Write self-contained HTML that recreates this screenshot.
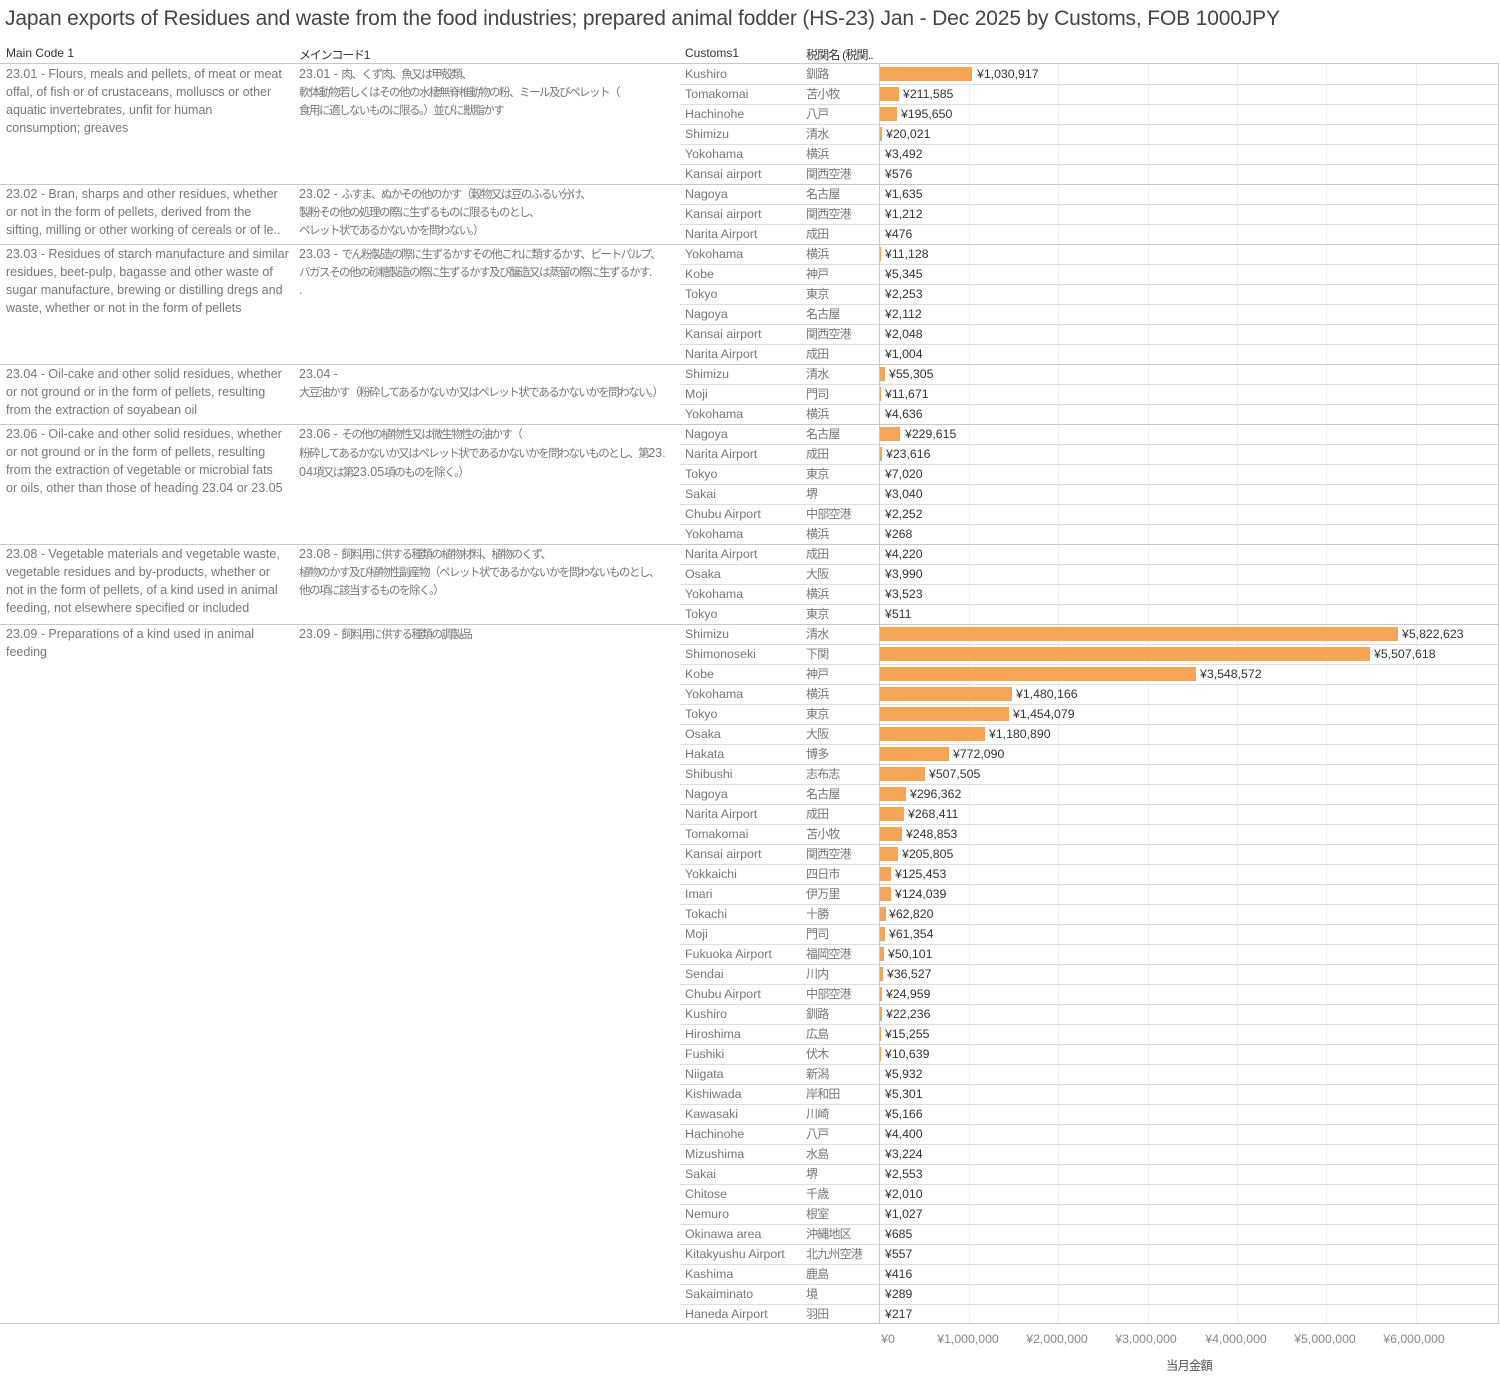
<!DOCTYPE html>
<html><head><meta charset="utf-8"><style>
*{margin:0;padding:0;box-sizing:border-box}
body{width:1500px;height:1381px;background:#fff;position:relative;overflow:hidden;font-family:"Liberation Sans","Noto Sans CJK JP",sans-serif;font-size:12px;color:#666}
.t{position:absolute;left:5px;top:7px;font-size:21px;color:#444;white-space:nowrap;letter-spacing:-0.15px}
.h{position:absolute;top:46px;color:#333;font-size:12px;white-space:nowrap}
.g{position:absolute;left:0;width:1499px;height:1px;background:#c8c8c8}
.rl{position:absolute;left:680px;width:819px;height:1px;background:#dedede}
.v{position:absolute;top:64px;height:1260px;width:1px;background:#efefef}
.d{position:absolute;line-height:18px;white-space:nowrap;font-size:12.5px;color:#777}
.jp{font-size:11.5px;letter-spacing:-1.5px;width:380px;overflow:hidden}
.jp s{text-decoration:none;letter-spacing:0;font-size:12.5px}
.r{position:absolute;left:0;width:1500px;height:20px}
.r .c{position:absolute;left:685px;top:2px;line-height:16px;color:#777;font-size:12.4px}
.r .j{position:absolute;left:806px;top:2px;line-height:16px;color:#777;letter-spacing:-0.8px}
.r b{position:absolute;left:880px;top:3px;height:14px;background:#f5a554}
.r i{position:absolute;top:2px;line-height:16px;font-style:normal;color:#333;font-size:12.3px}
.ax{position:absolute;top:1332px;color:#888;white-space:nowrap;transform:translateX(-50%);font-size:12.3px}
</style></head><body>
<div class="t">Japan exports of Residues and waste from the food industries; prepared animal fodder (HS-23) Jan - Dec 2025 by Customs, FOB 1000JPY</div>
<div class="h" style="left:6px">Main Code 1</div>
<div class="h" style="left:299px;letter-spacing:-1.2px">メインコード1</div>
<div class="h" style="left:685px">Customs1</div>
<div class="h" style="left:806px;letter-spacing:-0.8px">税関名 (税関..</div>

<div class="v" style="left:969px"></div><div class="v" style="left:1058px"></div><div class="v" style="left:1148px"></div><div class="v" style="left:1237px"></div><div class="v" style="left:1326px"></div><div class="v" style="left:1416px"></div>
<div class="v" style="left:1498px;background:#c8c8c8"></div>

<div class="rl" style="top:84px"></div><div class="rl" style="top:104px"></div><div class="rl" style="top:124px"></div><div class="rl" style="top:144px"></div><div class="rl" style="top:164px"></div>
<div class="rl" style="top:204px"></div><div class="rl" style="top:224px"></div>
<div class="rl" style="top:264px"></div><div class="rl" style="top:284px"></div><div class="rl" style="top:304px"></div><div class="rl" style="top:324px"></div><div class="rl" style="top:344px"></div>
<div class="rl" style="top:384px"></div><div class="rl" style="top:404px"></div>
<div class="rl" style="top:444px"></div><div class="rl" style="top:464px"></div><div class="rl" style="top:484px"></div><div class="rl" style="top:504px"></div><div class="rl" style="top:524px"></div>
<div class="rl" style="top:564px"></div><div class="rl" style="top:584px"></div><div class="rl" style="top:604px"></div>
<div class="rl" style="top:644px"></div><div class="rl" style="top:664px"></div><div class="rl" style="top:684px"></div><div class="rl" style="top:704px"></div><div class="rl" style="top:724px"></div><div class="rl" style="top:744px"></div><div class="rl" style="top:764px"></div><div class="rl" style="top:784px"></div><div class="rl" style="top:804px"></div><div class="rl" style="top:824px"></div><div class="rl" style="top:844px"></div><div class="rl" style="top:864px"></div><div class="rl" style="top:884px"></div><div class="rl" style="top:904px"></div><div class="rl" style="top:924px"></div><div class="rl" style="top:944px"></div><div class="rl" style="top:964px"></div><div class="rl" style="top:984px"></div><div class="rl" style="top:1004px"></div><div class="rl" style="top:1024px"></div><div class="rl" style="top:1044px"></div><div class="rl" style="top:1064px"></div><div class="rl" style="top:1084px"></div><div class="rl" style="top:1104px"></div><div class="rl" style="top:1124px"></div><div class="rl" style="top:1144px"></div><div class="rl" style="top:1164px"></div><div class="rl" style="top:1184px"></div><div class="rl" style="top:1204px"></div><div class="rl" style="top:1224px"></div><div class="rl" style="top:1244px"></div><div class="rl" style="top:1264px"></div><div class="rl" style="top:1284px"></div><div class="rl" style="top:1304px"></div>

<div class="g" style="top:63px"></div><div class="g" style="top:184px"></div><div class="g" style="top:244px"></div><div class="g" style="top:364px"></div><div class="g" style="top:424px"></div><div class="g" style="top:544px"></div><div class="g" style="top:624px"></div><div class="g" style="top:1323px"></div>
<div style="position:absolute;left:879px;top:64px;width:1px;height:1260px;background:#c8c8c8"></div>

<div class="d" style="left:6px;top:65px">23.01 - Flours, meals and pellets, of meat or meat<br>offal, of fish or of crustaceans, molluscs or other<br>aquatic invertebrates, unfit for human<br>consumption; greaves</div>
<div class="d jp" style="left:299px;top:65px"><s>23.01 - </s>肉、くず肉、魚又は甲殻類、<br>軟体動物若しくはその他の水棲無脊椎動物の粉、ミール及びペレット（<br>食用に適しないものに限る。）並びに獣脂かす</div>
<div class="d" style="left:6px;top:185px">23.02 - Bran, sharps and other residues, whether<br>or not in the form of pellets, derived from the<br>sifting, milling or other working of cereals or of le..</div>
<div class="d jp" style="left:299px;top:185px"><s>23.02 - </s>ふすま、ぬかその他のかす（穀物又は豆のふるい分け、<br>製粉その他の処理の際に生ずるものに限るものとし、<br>ペレット状であるかないかを問わない。）</div>
<div class="d" style="left:6px;top:245px">23.03 - Residues of starch manufacture and similar<br>residues, beet-pulp, bagasse and other waste of<br>sugar manufacture, brewing or distilling dregs and<br>waste, whether or not in the form of pellets</div>
<div class="d jp" style="left:299px;top:245px"><s>23.03 - </s>でん粉製造の際に生ずるかすその他これに類するかす、ビートパルプ、<br>バガスその他の砂糖製造の際に生ずるかす及び醸造又は蒸留の際に生ずるかす.<br>.</div>
<div class="d" style="left:6px;top:365px">23.04 - Oil-cake and other solid residues, whether<br>or not ground or in the form of pellets, resulting<br>from the extraction of soyabean oil</div>
<div class="d jp" style="left:299px;top:365px"><s>23.04 -</s><br>大豆油かす（粉砕してあるかないか又はペレット状であるかないかを問わない。）</div>
<div class="d" style="left:6px;top:425px">23.06 - Oil-cake and other solid residues, whether<br>or not ground or in the form of pellets, resulting<br>from the extraction of vegetable or microbial fats<br>or oils, other than those of heading 23.04 or 23.05</div>
<div class="d jp" style="left:299px;top:425px"><s>23.06 - </s>その他の植物性又は微生物性の油かす（<br>粉砕してあるかないか又はペレット状であるかないかを問わないものとし、第<s>23.</s><br><s>04</s>項又は第<s>23.05</s>項のものを除く。）</div>
<div class="d" style="left:6px;top:545px">23.08 - Vegetable materials and vegetable waste,<br>vegetable residues and by-products, whether or<br>not in the form of pellets, of a kind used in animal<br>feeding, not elsewhere specified or included</div>
<div class="d jp" style="left:299px;top:545px"><s>23.08 - </s>飼料用に供する種類の植物材料、植物のくず、<br>植物のかす及び植物性副産物（ペレット状であるかないかを問わないものとし、<br>他の項に該当するものを除く。）</div>
<div class="d" style="left:6px;top:625px">23.09 - Preparations of a kind used in animal<br>feeding</div>
<div class="d jp" style="left:299px;top:625px"><s>23.09 - </s>飼料用に供する種類の調製品</div>

<div class="r" style="top:64px"><span class="c">Kushiro</span><span class="j">釧路</span><b style="width:92px"></b><i style="left:977px">¥1,030,917</i></div>
<div class="r" style="top:84px"><span class="c">Tomakomai</span><span class="j">苫小牧</span><b style="width:19px"></b><i style="left:903px">¥211,585</i></div>
<div class="r" style="top:104px"><span class="c">Hachinohe</span><span class="j">八戸</span><b style="width:17px"></b><i style="left:901px">¥195,650</i></div>
<div class="r" style="top:124px"><span class="c">Shimizu</span><span class="j">清水</span><b style="width:2px"></b><i style="left:886px">¥20,021</i></div>
<div class="r" style="top:144px"><span class="c">Yokohama</span><span class="j">横浜</span><i style="left:885px">¥3,492</i></div>
<div class="r" style="top:164px"><span class="c">Kansai airport</span><span class="j">関西空港</span><i style="left:885px">¥576</i></div>
<div class="r" style="top:184px"><span class="c">Nagoya</span><span class="j">名古屋</span><i style="left:885px">¥1,635</i></div>
<div class="r" style="top:204px"><span class="c">Kansai airport</span><span class="j">関西空港</span><i style="left:885px">¥1,212</i></div>
<div class="r" style="top:224px"><span class="c">Narita Airport</span><span class="j">成田</span><i style="left:885px">¥476</i></div>
<div class="r" style="top:244px"><span class="c">Yokohama</span><span class="j">横浜</span><b style="width:1px"></b><i style="left:885px">¥11,128</i></div>
<div class="r" style="top:264px"><span class="c">Kobe</span><span class="j">神戸</span><i style="left:885px">¥5,345</i></div>
<div class="r" style="top:284px"><span class="c">Tokyo</span><span class="j">東京</span><i style="left:885px">¥2,253</i></div>
<div class="r" style="top:304px"><span class="c">Nagoya</span><span class="j">名古屋</span><i style="left:885px">¥2,112</i></div>
<div class="r" style="top:324px"><span class="c">Kansai airport</span><span class="j">関西空港</span><i style="left:885px">¥2,048</i></div>
<div class="r" style="top:344px"><span class="c">Narita Airport</span><span class="j">成田</span><i style="left:885px">¥1,004</i></div>
<div class="r" style="top:364px"><span class="c">Shimizu</span><span class="j">清水</span><b style="width:5px"></b><i style="left:889px">¥55,305</i></div>
<div class="r" style="top:384px"><span class="c">Moji</span><span class="j">門司</span><b style="width:1px"></b><i style="left:885px">¥11,671</i></div>
<div class="r" style="top:404px"><span class="c">Yokohama</span><span class="j">横浜</span><i style="left:885px">¥4,636</i></div>
<div class="r" style="top:424px"><span class="c">Nagoya</span><span class="j">名古屋</span><b style="width:20px"></b><i style="left:905px">¥229,615</i></div>
<div class="r" style="top:444px"><span class="c">Narita Airport</span><span class="j">成田</span><b style="width:2px"></b><i style="left:886px">¥23,616</i></div>
<div class="r" style="top:464px"><span class="c">Tokyo</span><span class="j">東京</span><i style="left:885px">¥7,020</i></div>
<div class="r" style="top:484px"><span class="c">Sakai</span><span class="j">堺</span><i style="left:885px">¥3,040</i></div>
<div class="r" style="top:504px"><span class="c">Chubu Airport</span><span class="j">中部空港</span><i style="left:885px">¥2,252</i></div>
<div class="r" style="top:524px"><span class="c">Yokohama</span><span class="j">横浜</span><i style="left:885px">¥268</i></div>
<div class="r" style="top:544px"><span class="c">Narita Airport</span><span class="j">成田</span><i style="left:885px">¥4,220</i></div>
<div class="r" style="top:564px"><span class="c">Osaka</span><span class="j">大阪</span><i style="left:885px">¥3,990</i></div>
<div class="r" style="top:584px"><span class="c">Yokohama</span><span class="j">横浜</span><i style="left:885px">¥3,523</i></div>
<div class="r" style="top:604px"><span class="c">Tokyo</span><span class="j">東京</span><i style="left:885px">¥511</i></div>
<div class="r" style="top:624px"><span class="c">Shimizu</span><span class="j">清水</span><b style="width:518px"></b><i style="left:1402px">¥5,822,623</i></div>
<div class="r" style="top:644px"><span class="c">Shimonoseki</span><span class="j">下関</span><b style="width:490px"></b><i style="left:1374px">¥5,507,618</i></div>
<div class="r" style="top:664px"><span class="c">Kobe</span><span class="j">神戸</span><b style="width:316px"></b><i style="left:1200px">¥3,548,572</i></div>
<div class="r" style="top:684px"><span class="c">Yokohama</span><span class="j">横浜</span><b style="width:132px"></b><i style="left:1016px">¥1,480,166</i></div>
<div class="r" style="top:704px"><span class="c">Tokyo</span><span class="j">東京</span><b style="width:129px"></b><i style="left:1013px">¥1,454,079</i></div>
<div class="r" style="top:724px"><span class="c">Osaka</span><span class="j">大阪</span><b style="width:105px"></b><i style="left:989px">¥1,180,890</i></div>
<div class="r" style="top:744px"><span class="c">Hakata</span><span class="j">博多</span><b style="width:69px"></b><i style="left:953px">¥772,090</i></div>
<div class="r" style="top:764px"><span class="c">Shibushi</span><span class="j">志布志</span><b style="width:45px"></b><i style="left:929px">¥507,505</i></div>
<div class="r" style="top:784px"><span class="c">Nagoya</span><span class="j">名古屋</span><b style="width:26px"></b><i style="left:910px">¥296,362</i></div>
<div class="r" style="top:804px"><span class="c">Narita Airport</span><span class="j">成田</span><b style="width:24px"></b><i style="left:908px">¥268,411</i></div>
<div class="r" style="top:824px"><span class="c">Tomakomai</span><span class="j">苫小牧</span><b style="width:22px"></b><i style="left:906px">¥248,853</i></div>
<div class="r" style="top:844px"><span class="c">Kansai airport</span><span class="j">関西空港</span><b style="width:18px"></b><i style="left:902px">¥205,805</i></div>
<div class="r" style="top:864px"><span class="c">Yokkaichi</span><span class="j">四日市</span><b style="width:11px"></b><i style="left:895px">¥125,453</i></div>
<div class="r" style="top:884px"><span class="c">Imari</span><span class="j">伊万里</span><b style="width:11px"></b><i style="left:895px">¥124,039</i></div>
<div class="r" style="top:904px"><span class="c">Tokachi</span><span class="j">十勝</span><b style="width:6px"></b><i style="left:889px">¥62,820</i></div>
<div class="r" style="top:924px"><span class="c">Moji</span><span class="j">門司</span><b style="width:5px"></b><i style="left:889px">¥61,354</i></div>
<div class="r" style="top:944px"><span class="c">Fukuoka Airport</span><span class="j">福岡空港</span><b style="width:4px"></b><i style="left:888px">¥50,101</i></div>
<div class="r" style="top:964px"><span class="c">Sendai</span><span class="j">川内</span><b style="width:3px"></b><i style="left:887px">¥36,527</i></div>
<div class="r" style="top:984px"><span class="c">Chubu Airport</span><span class="j">中部空港</span><b style="width:2px"></b><i style="left:886px">¥24,959</i></div>
<div class="r" style="top:1004px"><span class="c">Kushiro</span><span class="j">釧路</span><b style="width:2px"></b><i style="left:886px">¥22,236</i></div>
<div class="r" style="top:1024px"><span class="c">Hiroshima</span><span class="j">広島</span><b style="width:1px"></b><i style="left:885px">¥15,255</i></div>
<div class="r" style="top:1044px"><span class="c">Fushiki</span><span class="j">伏木</span><b style="width:1px"></b><i style="left:885px">¥10,639</i></div>
<div class="r" style="top:1064px"><span class="c">Niigata</span><span class="j">新潟</span><i style="left:885px">¥5,932</i></div>
<div class="r" style="top:1084px"><span class="c">Kishiwada</span><span class="j">岸和田</span><i style="left:885px">¥5,301</i></div>
<div class="r" style="top:1104px"><span class="c">Kawasaki</span><span class="j">川崎</span><i style="left:885px">¥5,166</i></div>
<div class="r" style="top:1124px"><span class="c">Hachinohe</span><span class="j">八戸</span><i style="left:885px">¥4,400</i></div>
<div class="r" style="top:1144px"><span class="c">Mizushima</span><span class="j">水島</span><i style="left:885px">¥3,224</i></div>
<div class="r" style="top:1164px"><span class="c">Sakai</span><span class="j">堺</span><i style="left:885px">¥2,553</i></div>
<div class="r" style="top:1184px"><span class="c">Chitose</span><span class="j">千歳</span><i style="left:885px">¥2,010</i></div>
<div class="r" style="top:1204px"><span class="c">Nemuro</span><span class="j">根室</span><i style="left:885px">¥1,027</i></div>
<div class="r" style="top:1224px"><span class="c">Okinawa area</span><span class="j">沖縄地区</span><i style="left:885px">¥685</i></div>
<div class="r" style="top:1244px"><span class="c">Kitakyushu Airport</span><span class="j">北九州空港</span><i style="left:885px">¥557</i></div>
<div class="r" style="top:1264px"><span class="c">Kashima</span><span class="j">鹿島</span><i style="left:885px">¥416</i></div>
<div class="r" style="top:1284px"><span class="c">Sakaiminato</span><span class="j">境</span><i style="left:885px">¥289</i></div>
<div class="r" style="top:1304px"><span class="c">Haneda Airport</span><span class="j">羽田</span><i style="left:885px">¥217</i></div>

<div class="ax" style="left:888px">¥0</div>
<div class="ax" style="left:968px">¥1,000,000</div>
<div class="ax" style="left:1057px">¥2,000,000</div>
<div class="ax" style="left:1146px">¥3,000,000</div>
<div class="ax" style="left:1236px">¥4,000,000</div>
<div class="ax" style="left:1325px">¥5,000,000</div>
<div class="ax" style="left:1414px">¥6,000,000</div>
<div class="ax" style="left:1189px;top:1356px;color:#555;letter-spacing:-0.8px">当月金額</div>
</body></html>
